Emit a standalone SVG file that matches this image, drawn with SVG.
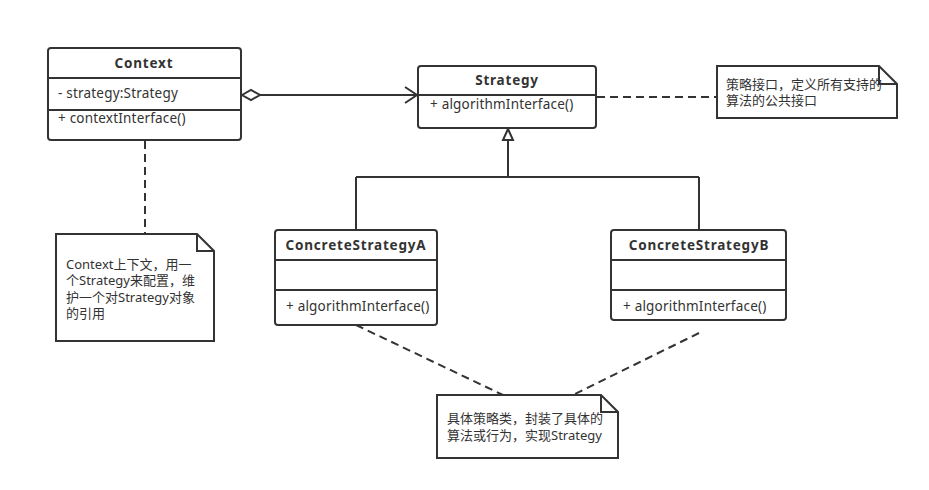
<svg xmlns="http://www.w3.org/2000/svg" width="929" height="490" viewBox="0 0 929 490">
<defs>
<style>
.box{fill:#fff;stroke:#333;stroke-width:2}
.ln{stroke:#333;stroke-width:2;fill:none}
.dash{stroke:#333;stroke-width:2;fill:none;stroke-dasharray:8 5}
text{font-family:"Noto Sans","Noto Sans CJK SC",sans-serif;font-size:13px;fill:#333}
.m{font-size:13.5px;letter-spacing:0.2px}
.t{font-weight:bold;text-anchor:middle;font-size:13.5px;letter-spacing:0.8px}
</style>
</defs>
<rect width="929" height="490" fill="#fff"/>
<g id="connectors">
<path class="ln" d="M260 95 H417 M405 87 L417 95 L405 103"/>
<path class="ln" d="M242 95 L251 90 L260 95 L251 100 Z" fill="#fff"/>
<path class="dash" d="M597 97 H716"/>
<path class="ln" d="M508 140 V177 M356 177 H699 M356 177 V230 M699 177 V230"/>
<path class="ln" d="M508 129 L503 140 H513 Z" fill="#fff"/>
<path class="dash" d="M145 141 V234"/>
<path class="dash" d="M356 325 L503 395"/>
<path class="dash" d="M699 333 L573 395"/>
</g>
<g id="context">
<rect class="box" x="48" y="48" width="193" height="92" rx="3"/>
<path class="ln" d="M48 78 H241 M48 110 H241"/>
<text class="t" x="144" y="68">Context</text>
<text class="m" x="58" y="98">- strategy:Strategy</text>
<text class="m" x="58" y="123">+ contextInterface()</text>
</g>
<g id="strategy">
<rect class="box" x="418" y="66" width="178" height="62" rx="3"/>
<path class="ln" d="M418 95 H596"/>
<text class="t" x="507" y="85">Strategy</text>
<text class="m" x="430" y="109">+ algorithmInterface()</text>
</g>
<g id="note-strategy">
<path class="box" d="M717 66 H879 L897 84 V118 H717 Z"/>
<path class="ln" d="M879 66 V84 H897"/>
<text x="726" y="89">策略接口，定义所有支持的</text>
<text x="726" y="105">算法的公共接口</text>
</g>
<g id="concreteA">
<rect class="box" x="275" y="230" width="162" height="95" rx="3"/>
<path class="ln" d="M275 260 H437 M275 290 H437"/>
<text class="t" x="356" y="250">ConcreteStrategyA</text>
<text class="m" x="286" y="311">+ algorithmInterface()</text>
</g>
<g id="concreteB">
<rect class="box" x="611" y="230" width="175" height="90" rx="3"/>
<path class="ln" d="M611 260 H786 M611 290 H786"/>
<text class="t" x="699" y="250">ConcreteStrategyB</text>
<text class="m" x="623" y="311">+ algorithmInterface()</text>
</g>
<g id="note-context">
<path class="box" d="M56 234 H197 L214 251 V341 H56 Z"/>
<path class="ln" d="M197 234 V251 H214"/>
<text x="66" y="269">Context上下文，用一</text>
<text x="66" y="285">个Strategy来配置，维</text>
<text x="66" y="302">护一个对Strategy对象</text>
<text x="66" y="318">的引用</text>
</g>
<g id="note-concrete">
<path class="box" d="M437 395 H601 L618 412 V458 H437 Z"/>
<path class="ln" d="M601 395 V412 H618"/>
<text x="447" y="423">具体策略类，封装了具体的</text>
<text x="447" y="440">算法或行为，实现Strategy</text>
</g>
</svg>
